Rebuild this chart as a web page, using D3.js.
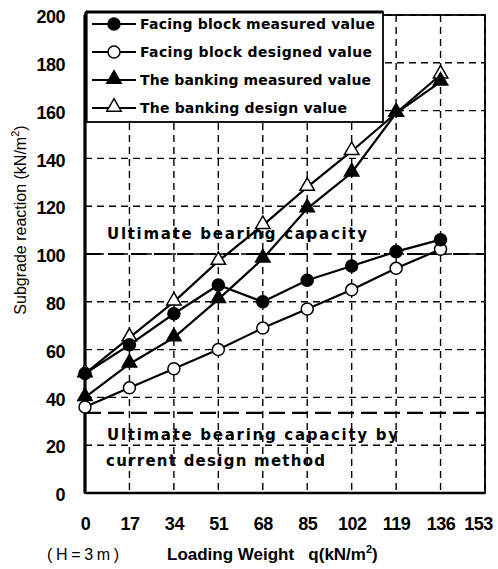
<!DOCTYPE html>
<html>
<head>
<meta charset="utf-8">
<script src="https://cdn.jsdelivr.net/npm/d3@7"></script>
<style>
  body { margin: 0; background: #fff; }
  text { fill: #000; }
</style>
</head>
<body>
<div id="chart"></div>
<script>
// data
var loads = [0, 17, 34, 51, 68, 85, 102, 119, 136];
var xTicks = [0, 17, 34, 51, 68, 85, 102, 119, 136, 153];
var yTicks = [0, 20, 40, 60, 80, 100, 120, 140, 160, 180, 200];
var facingMeasured = [50, 62, 75, 87, 80, 89, 95, 101, 106];
var facingDesigned = [36, 44, 52, 60, 69, 77, 85, 94, 102];
var bankingMeasured = [40, 54, 65, 81, 98, 119, 134, 159, 172];
var bankingDesign = [50, 65, 80, 97, 112, 128, 143, 159, 175];
var ultimate = 100;
var ultimateCurrent = 33.5;

var series = [
    {name: "Facing block measured value", values: facingMeasured, mark: "circle", fill: "#000"},
    {name: "Facing block designed value", values: facingDesigned, mark: "circle", fill: "#fff"},
    {name: "The banking measured value", values: bankingMeasured, mark: "triangle", fill: "#000"},
    {name: "The banking design value", values: bankingDesign, mark: "triangle", fill: "#fff"}
];

var W = 498, H = 569;
var pLeft = 85, pRight = 485, pTop = 15, pBottom = 493;

var svg = d3.select("#chart").append("svg")
    .attr("width", W)
    .attr("height", H)
    .style("font-family", "'Liberation Sans', Arial, sans-serif");

var x = d3.scaleLinear().domain([0, 153]).range([pLeft, pRight]);
var y = d3.scaleLinear().domain([0, 200]).range([pBottom, pTop]);

// grid
svg.selectAll(".vgrid").data(xTicks.slice(1))
    .enter().append("line")
    .attr("x1", function(d) { return x(d) }).attr("x2", function(d) { return x(d) })
    .attr("y1", pTop).attr("y2", pBottom)
    .style("stroke", "#000").style("stroke-width", 1.4).style("stroke-dasharray", "7,5");
svg.selectAll(".hgrid").data(yTicks.slice(1))
    .enter().append("line")
    .attr("x1", pLeft).attr("x2", pRight)
    .attr("y1", function(d) { return y(d) }).attr("y2", function(d) { return y(d) })
    .style("stroke", "#000").style("stroke-width", 1.4).style("stroke-dasharray", "7,5");

// bearing capacity lines
[ultimate, ultimateCurrent].forEach(function(v) {
    svg.append("line")
        .attr("x1", pLeft).attr("x2", pRight)
        .attr("y1", y(v)).attr("y2", y(v))
        .style("stroke", "#000").style("stroke-width", 2.2).style("stroke-dasharray", "16,7");
});

// frame
svg.append("rect")
    .attr("x", pLeft).attr("y", pTop).attr("width", pRight - pLeft).attr("height", pBottom - pTop)
    .style("fill", "none").style("stroke", "#000").style("stroke-width", 1.8);
svg.append("line")
    .attr("x1", pLeft).attr("x2", pLeft).attr("y1", pTop).attr("y2", pBottom)
    .style("stroke", "#000").style("stroke-width", 3.2);
svg.append("line")
    .attr("x1", pLeft).attr("x2", pRight).attr("y1", pBottom).attr("y2", pBottom)
    .style("stroke", "#000").style("stroke-width", 2.4);

// axis tick labels
var yAxis = d3.axisLeft(y).tickValues(yTicks).tickSize(0).tickPadding(20);
var gy = svg.append("g").attr("transform", "translate(" + pLeft + ",2)").call(yAxis);
gy.select(".domain").remove();
gy.selectAll("text").style("font-size", "18px").style("font-weight", "bold")
    .style("letter-spacing", "-0.5px")
    .style("font-family", "'Liberation Sans', Arial, sans-serif");

var xAxis = d3.axisBottom(x).tickValues(xTicks).tickSize(0).tickPadding(24);
var gx = svg.append("g").attr("transform", "translate(0," + pBottom + ")").call(xAxis);
gx.select(".domain").remove();
gx.selectAll("text").style("font-size", "18px").style("font-weight", "bold")
    .style("letter-spacing", "-0.5px")
    .style("font-family", "'Liberation Sans', Arial, sans-serif");
// last label sits inside the page edge
gx.selectAll("text").filter(function(d) { return d == 153 }).attr("dx", -7);

// annotation texts
var annoFont = "'DejaVu Sans', sans-serif";
svg.append("text").attr("x", 107).attr("y", 239).attr("textLength", 260)
    .style("font-family", annoFont).style("font-weight", "bold").style("font-size", "15px")
    .text("Ultimate bearing capacity");
svg.append("text").attr("x", 107).attr("y", 440).attr("textLength", 291)
    .style("font-family", annoFont).style("font-weight", "bold").style("font-size", "15px")
    .text("Ultimate bearing capacity by");
svg.append("text").attr("x", 106).attr("y", 466).attr("textLength", 219)
    .style("font-family", annoFont).style("font-weight", "bold").style("font-size", "15px")
    .text("current design method");

// series lines and markers
var line = d3.line()
    .x(function(d, i) { return x(loads[i]) })
    .y(function(d) { return y(d) });
var triangle = d3.symbol().type(d3.symbolTriangle).size(90);

function drawMarker(g, s, cx, cy) {
    if (s.mark == "circle") {
        g.append("circle").attr("cx", cx).attr("cy", cy).attr("r", 6)
            .style("fill", s.fill).style("stroke", "#000").style("stroke-width", 1.5);
    } else {
        g.append("path").attr("d", triangle).attr("transform", "translate(" + cx + "," + (cy - 1) + ")")
            .style("fill", s.fill).style("stroke", "#000").style("stroke-width", 1.5);
    }
}

var plotG = svg.append("g");
series.forEach(function(s) {
    plotG.append("path").datum(s.values).attr("d", line)
        .style("fill", "none").style("stroke", "#000").style("stroke-width", 2.2);
});
series.slice().reverse().forEach(function(s) {
    s.values.forEach(function(v, i) {
        drawMarker(plotG, s, x(loads[i]), y(v));
    });
});

// legend
var lg = svg.append("g");
lg.append("rect").attr("x", 86).attr("y", 12).attr("width", 297).attr("height", 110)
    .style("fill", "#fff").style("stroke", "#000").style("stroke-width", 1.8);
lg.append("line").attr("x1", 86).attr("x2", 383).attr("y1", 12).attr("y2", 12)
    .style("stroke", "#000").style("stroke-width", 3);
lg.append("line").attr("x1", 86).attr("x2", 86).attr("y1", 12).attr("y2", 122)
    .style("stroke", "#000").style("stroke-width", 3.2);
var legendLen = [235, 232, 231, 207];
series.forEach(function(s, i) {
    var ly = 24 + i * 28;
    lg.append("line").attr("x1", 92).attr("x2", 136).attr("y1", ly).attr("y2", ly)
        .style("stroke", "#000").style("stroke-width", 2.2);
    drawMarker(lg, s, 114, ly);
    lg.append("text").attr("x", 140).attr("y", ly + 5).attr("textLength", legendLen[i])
        .style("font-family", annoFont).style("font-weight", "bold").style("font-size", "14px")
        .text(s.name);
});

// axis titles
svg.append("text")
    .attr("transform", "translate(26,220) rotate(-90)")
    .attr("text-anchor", "middle")
    .style("font-size", "16px").style("font-family", "'Liberation Sans', Arial, sans-serif")
    .html("Subgrade reaction (kN/m<tspan dy='-7' font-size='11px'>2</tspan><tspan dy='7'>)</tspan>");
svg.append("text").attr("x", 47).attr("y", 560).attr("textLength", 72)
    .style("font-size", "16px")
    .text("(H=3m)");
svg.append("text").attr("x", 167).attr("y", 560)
    .style("font-size", "17px").style("font-weight", "bold")
    .html("Loading Weight&#160;&#160; q(kN/m<tspan dy='-7' font-size='11px'>2</tspan><tspan dy='7'>)</tspan>");
</script>
</body>
</html>
